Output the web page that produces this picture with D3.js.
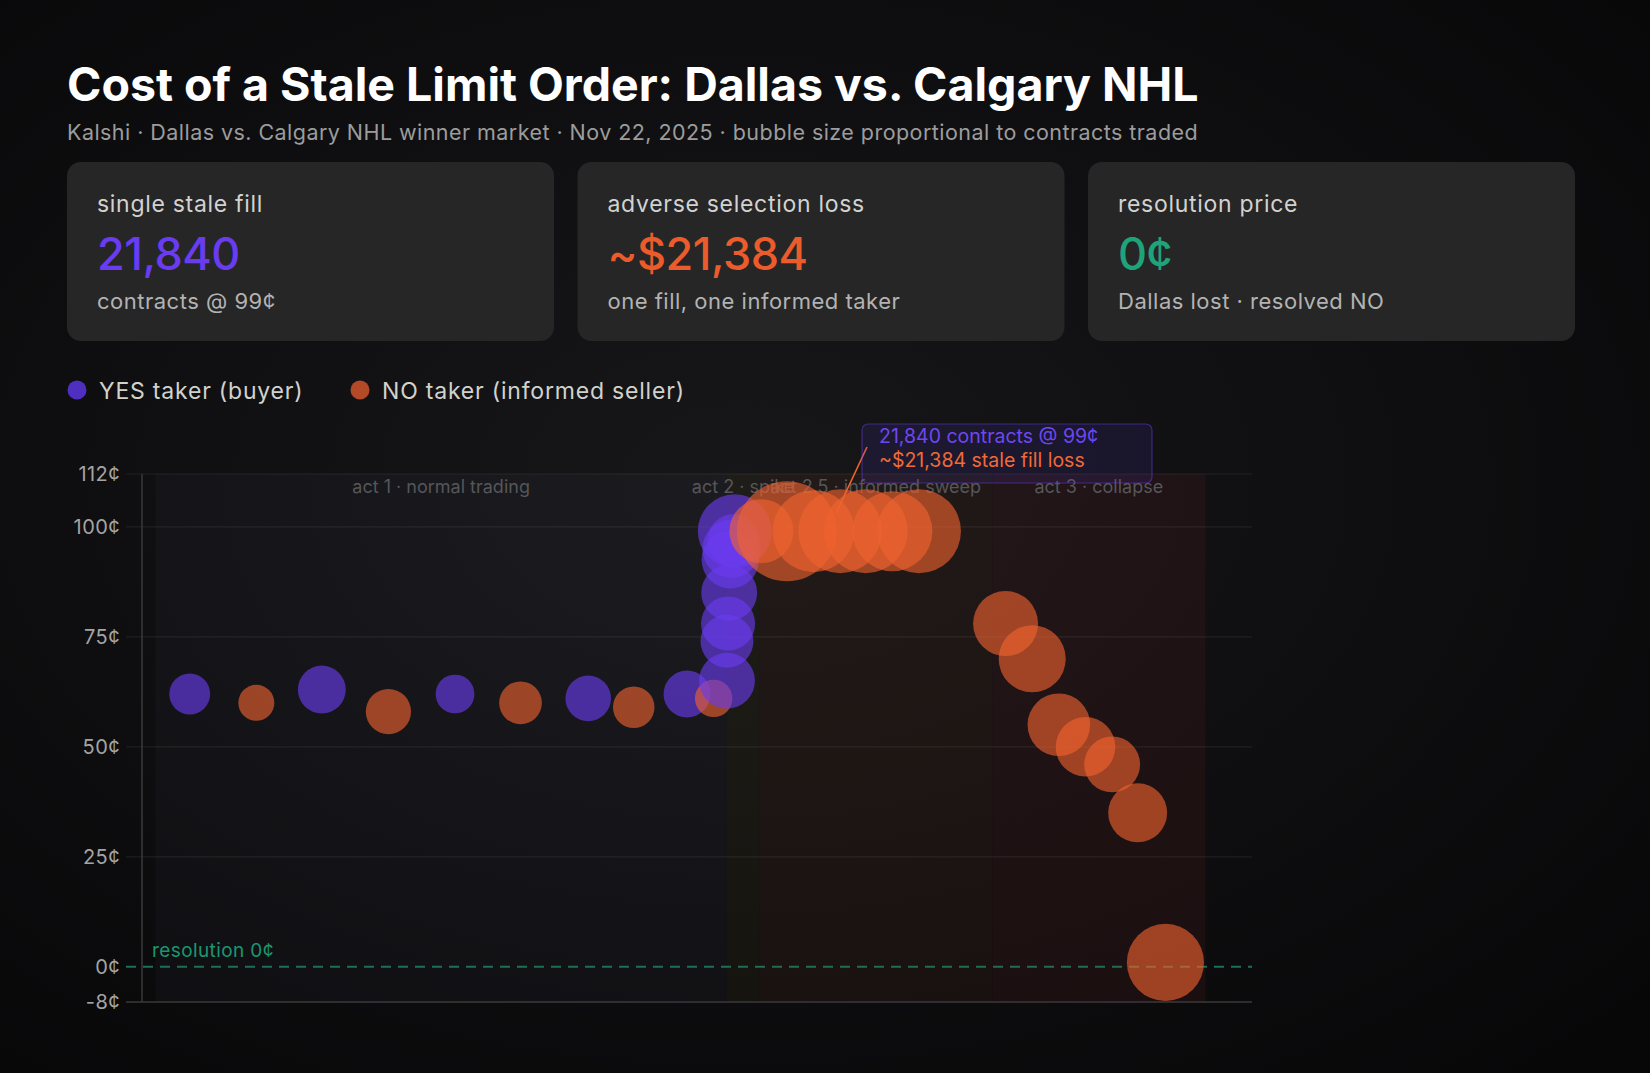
<!DOCTYPE html>
<html><head><meta charset="utf-8">
<script src="https://cdn.jsdelivr.net/npm/d3@7"></script>
<style>
html,body{margin:0;padding:0;background:#0b0b0d;}
svg{display:block;font-family:Inter,"Noto Sans",sans-serif;}
</style></head>
<body><svg id="c" width="1650" height="1073"></svg>
<script>
// ---- data ----
const title = "Cost of a Stale Limit Order: Dallas vs. Calgary NHL";
const subtitle = "Kalshi · Dallas vs. Calgary NHL winner market · Nov 22, 2025 · bubble size proportional to contracts traded";
const cardLabels = ["single stale fill", "adverse selection loss", "resolution price"];
const cardValues = ["21,840", "~$21,384", "0¢"];
const cardSubs = ["contracts @ 99¢", "one fill, one informed taker", "Dallas lost · resolved NO"];
const legendLabels = ["YES taker (buyer)", "NO taker (informed seller)"];
const yTicks = [-8, 0, 25, 50, 75, 100, 112];
const actNames = ["act 1 · normal trading", "act 2 · spike", "act 2.5 · informed sweep", "act 3 · collapse"];
const actStart = [1.2, 52.7, 55.6, 76.6];
const actEnd = [52.7, 55.6, 76.6, 95.8];
// trades: time index, price (¢), contracts
const yesTime = [4.3, 16.2, 28.2, 40.2, 49.1, 52.7, 52.7, 52.8, 52.9, 53.0, 53.1, 53.3, 53.4];
const yesPrice = [62, 63, 62, 61, 62, 65, 74, 78, 85, 92.5, 95, 97, 99];
const yesSize = [6700, 9200, 6000, 8300, 8800, 12500, 11200, 11700, 12500, 13200, 13500, 10800, 21840];
const noTime = [10.3, 22.2, 34.1, 44.3, 51.5, 55.8, 58.1, 60.5, 62.9, 65.2, 67.6, 70.0, 77.8, 80.2, 82.6, 85.0, 87.4, 89.7, 92.2];
const noPrice = [60, 58, 60, 59, 61, 99, 99, 99, 99, 99, 99, 99, 78, 70, 55, 50, 46, 35, 1];
const noSize = [5200, 8200, 7300, 6900, 5600, 16400, 40000, 26900, 28200, 28200, 25600, 28200, 16900, 18000, 15700, 14200, 12500, 13900, 23800];
const annoLines = ["21,840 contracts @ 99¢", "~$21,384 stale fill loss"];
const resolutionLabel = "resolution 0¢";

// ---- style ----
const PURPLE = "#6a3cf0", ORANGE = "#f0622f", GREEN = "#1fa37a";
const svg = d3.select("#c");

// background
const defs = svg.append("defs");
const rg = defs.append("radialGradient").attr("id","bg").attr("cx","45%").attr("cy","45%").attr("r","75%");
rg.append("stop").attr("offset","0%").attr("stop-color","#17171a");
rg.append("stop").attr("offset","100%").attr("stop-color","#070708");
svg.append("rect").attr("width",1650).attr("height",1073).attr("fill","url(#bg)");

// title
svg.append("text").attr("x",67).attr("y",101).attr("fill","#fff")
  .attr("font-size",46.5).attr("font-weight",700).text(title);
svg.append("text").attr("x",67).attr("y",140).attr("fill","#9c9c9c")
  .attr("font-size",21.5).attr("letter-spacing",0.45).text(subtitle);

// cards
const cardColors = [PURPLE, "#ec5b2b", GREEN];
const cardX = d3.range(3).map(i => 67 + i * 510.5);
cardLabels.forEach((lab, i) => {
  const g = svg.append("g").attr("transform", `translate(${cardX[i]},162)`);
  g.append("rect").attr("width",487).attr("height",179).attr("rx",14).attr("fill","#262626");
  g.append("text").attr("x",30).attr("y",50).attr("fill","#d2d2d2").attr("font-size",23).attr("letter-spacing",0.7).text(lab);
  g.append("text").attr("x",30).attr("y",108).attr("fill",cardColors[i]).attr("font-size",45).attr("font-weight",500).attr("letter-spacing",-0.5).text(cardValues[i]);
  g.append("text").attr("x",30).attr("y",147).attr("fill","#b3b3b3").attr("font-size",22).attr("letter-spacing",0.5).text(cardSubs[i]);
});

// legend
const legX = [77, 360];
legendLabels.forEach((lab, i) => {
  svg.append("circle").attr("cx",legX[i]).attr("cy",390).attr("r",9.5)
    .attr("fill", i === 0 ? "#4f2fc0" : "#b24a27");
  svg.append("text").attr("x",legX[i]+22).attr("y",399).attr("fill","#d2d2cc").attr("font-size",23).attr("letter-spacing",0.8).text(lab);
});

// scales
const x = d3.scaleLinear().domain([0, 100]).range([142, 1252]);
const y = d3.scaleLinear().domain([-8, 112]).range([1002, 474]);
const r = d3.scaleSqrt().domain([0, 40000]).range([0, 50]);

// act regions
const actFill = ["rgba(140,140,190,0.045)", "rgba(200,160,20,0.05)", "rgba(240,110,40,0.055)", "rgba(230,50,50,0.07)"];
actNames.forEach((n, i) => {
  svg.append("rect").attr("x", x(actStart[i])).attr("y", y(112))
    .attr("width", x(actEnd[i]) - x(actStart[i])).attr("height", y(-8) - y(112))
    .attr("fill", actFill[i]);
});

// grid
svg.append("g").selectAll("line").data(yTicks.filter(d => d !== 0 && d !== -8)).join("line")
  .attr("x1",126).attr("x2",1252).attr("y1",d=>y(d)).attr("y2",d=>y(d))
  .attr("stroke","rgba(255,255,255,0.07)").attr("stroke-width",1.2);

// y axis
const ya = svg.append("g").attr("transform","translate(142,0)")
  .call(d3.axisLeft(y).tickValues(yTicks).tickSize(0).tickPadding(22).tickFormat(d => d + "¢"));
ya.select(".domain").remove();
ya.selectAll("text").attr("fill","#a4a4a4").attr("font-size",20).attr("letter-spacing",0.4).attr("font-family","Inter,sans-serif");
svg.append("line").attr("x1",142).attr("x2",142).attr("y1",y(112)).attr("y2",y(-8)).attr("stroke","#3a3a3d").attr("stroke-width",1.5);
svg.append("line").attr("x1",126).attr("x2",1252).attr("y1",y(-8)).attr("y2",y(-8)).attr("stroke","#3a3a3d").attr("stroke-width",1.5);

// resolution line
svg.append("line").attr("x1",126).attr("x2",1252).attr("y1",y(0)).attr("y2",y(0))
  .attr("stroke","#1f6e57").attr("stroke-width",2).attr("stroke-dasharray","10 7");
svg.append("text").attr("x",152).attr("y",y(0)-10).attr("fill","#1a9670").attr("font-size",19).attr("letter-spacing",0.4).text(resolutionLabel);

// act labels
actNames.forEach((n, i) => {
  svg.append("text").attr("x",(x(actStart[i])+x(actEnd[i]))/2).attr("y",493)
    .attr("text-anchor","middle").attr("fill","#56565a").attr("font-size",18).text(n);
});

// annotation
const ann = svg.append("g");
ann.append("line").attr("x1",867).attr("y1",447).attr("x2",x(62.9)-4).attr("y2",y(99)-18)
  .attr("stroke",ORANGE).attr("stroke-width",1.6);
ann.append("rect").attr("x",862).attr("y",424).attr("width",290).attr("height",59).attr("rx",6)
  .attr("fill","rgba(90,60,220,0.12)").attr("stroke","rgba(110,64,242,0.45)").attr("stroke-width",1.2);
ann.append("text").attr("x",879).attr("y",443).attr("fill","#6e47f2").attr("font-size",19.5).text(annoLines[0]);
ann.append("text").attr("x",879).attr("y",467).attr("fill","#ef6a35").attr("font-size",19.5).text(annoLines[1]);

// bubbles (time order)
const trades = [];
yesTime.forEach((t, i) => trades.push({t, p: yesPrice[i], s: yesSize[i], side: "yes"}));
noTime.forEach((t, i) => trades.push({t, p: noPrice[i], s: noSize[i], side: "no"}));
trades.sort((a, b) => a.t - b.t);
svg.append("g").selectAll("circle").data(trades).join("circle")
  .attr("cx", d => x(d.t)).attr("cy", d => y(d.p)).attr("r", d => r(d.s))
  .attr("fill", d => d.side === "yes" ? PURPLE : ORANGE)
  .attr("fill-opacity", 0.62);
</script></body></html>
